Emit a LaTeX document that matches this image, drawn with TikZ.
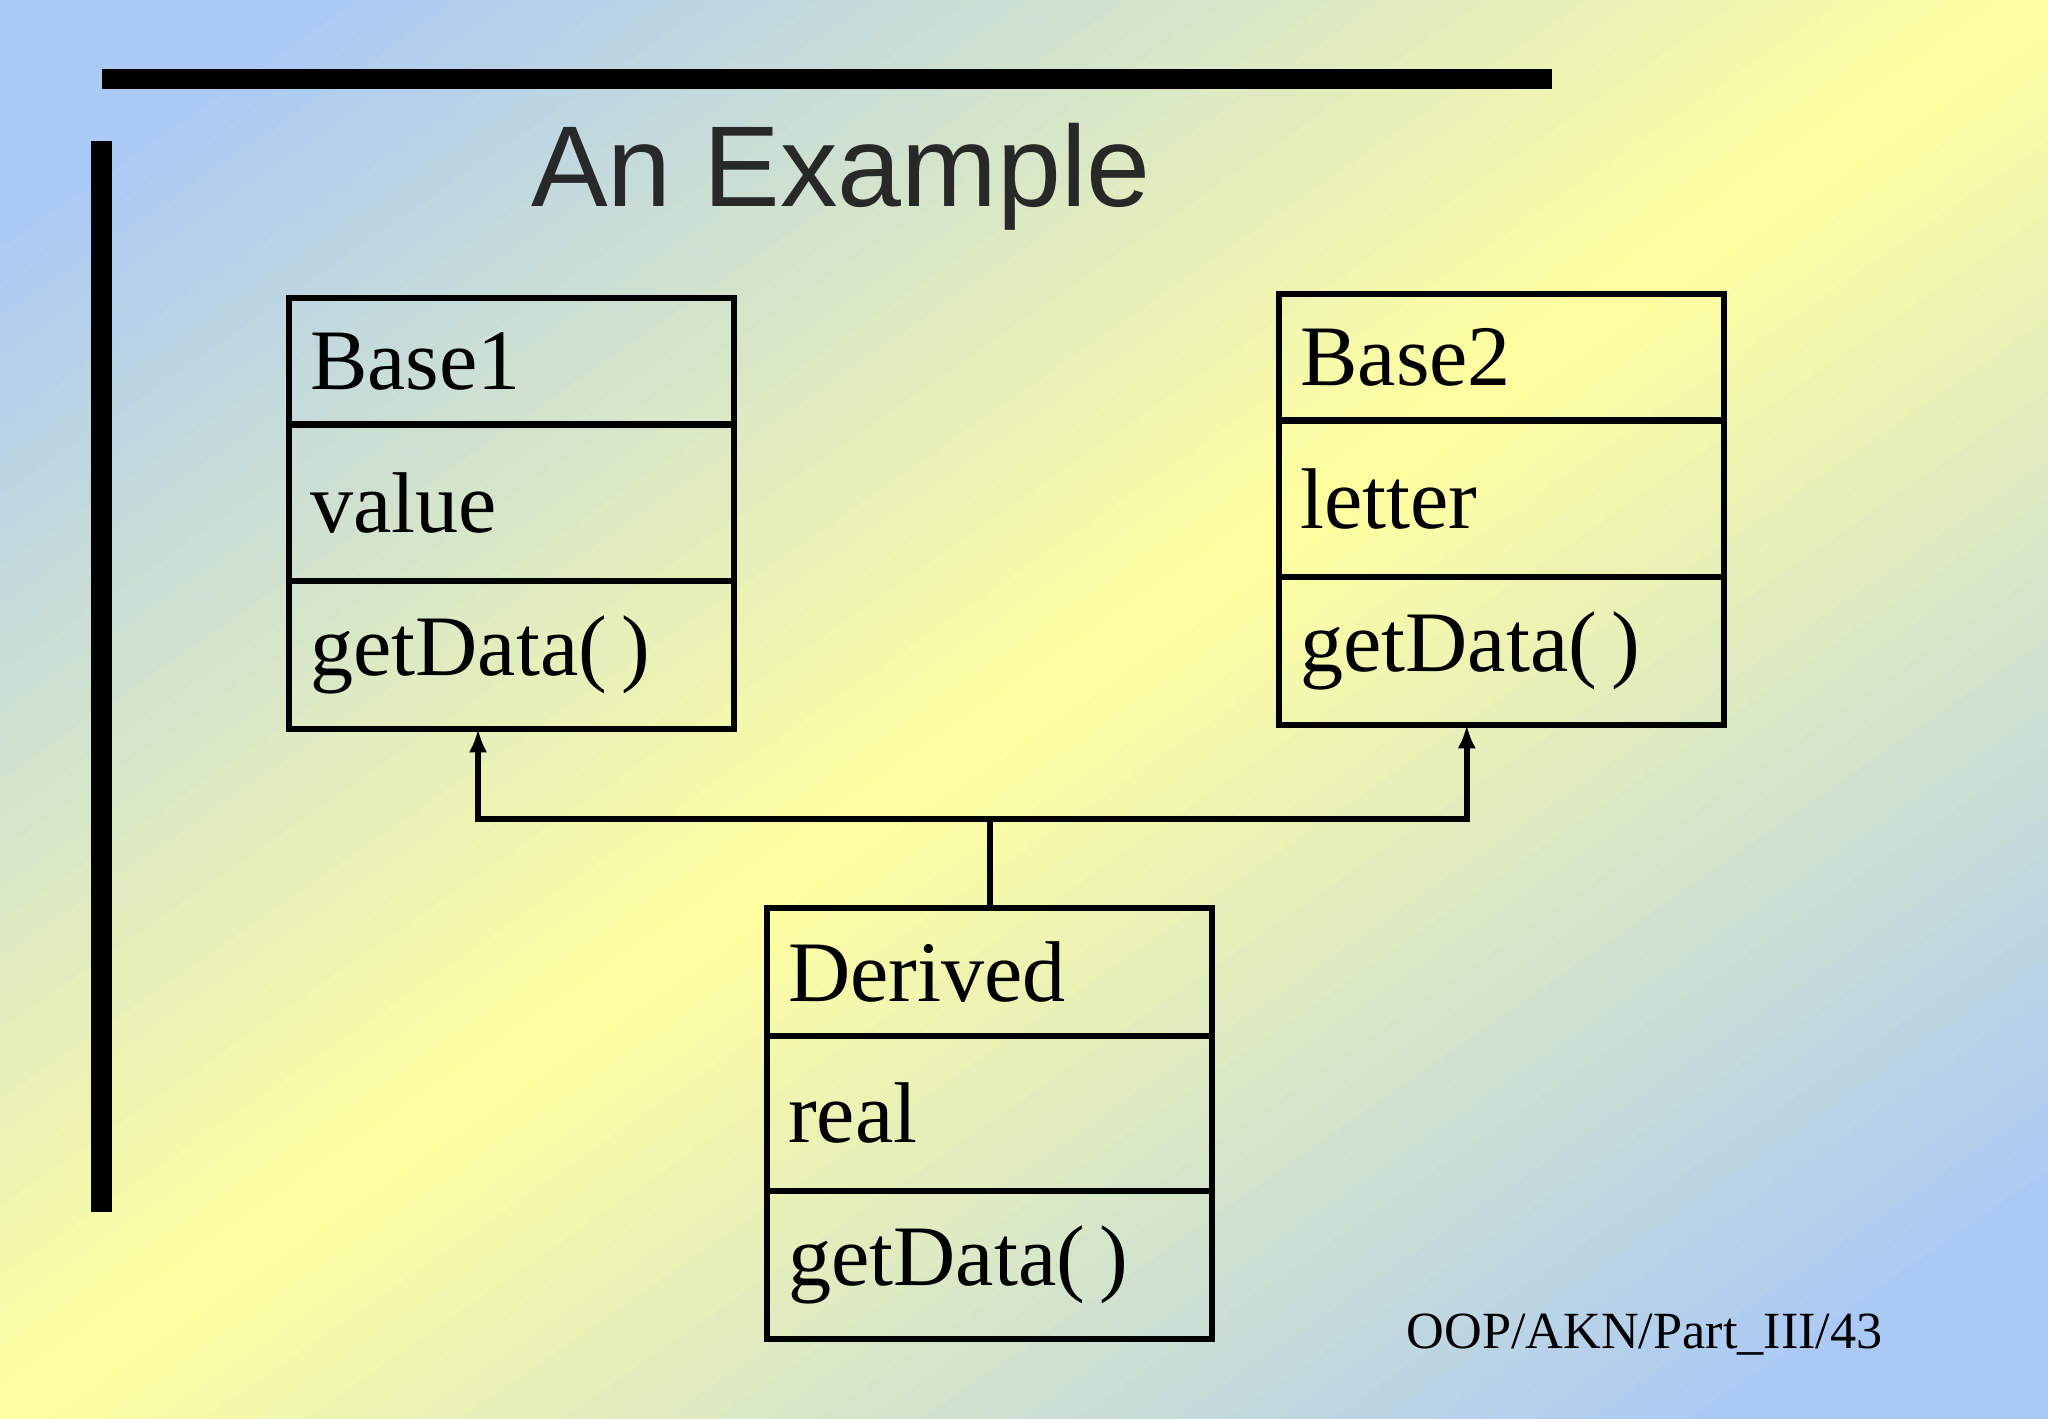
\documentclass[tikz,border=0pt]{standalone}
\usepackage{fontspec}
\setmainfont{Liberation Serif}
\newfontfamily\titlefont{Liberation Sans}
\usetikzlibrary{arrows.meta}
\definecolor{bgblue}{RGB}{170,202,245}
\definecolor{bgyellow}{RGB}{255,255,160}
\definecolor{titlegray}{RGB}{40,40,40}
\tikzset{
  comp/.style={draw=black, line width=2.4pt, minimum width=170.5pt, text width=154pt, align=left, inner sep=0pt, font=\fontsize{33}{33}\selectfont},
  conn/.style={line width=2.2pt},
  arr/.style={conn, -{Latex[length=9pt,width=7pt]}},
  bar/.style={fill=black, draw=none}
}
\begin{document}
\begin{tikzpicture}[x=0.5pt,y=-0.5pt]
\useasboundingbox (0,0) rectangle (1568,1086);
\begin{scope}
\clip (0,0) rectangle (1568,1086);
\foreach \i in {0,...,79}{
  \pgfmathsetmacro\ua{\i/40}
  \pgfmathsetmacro\ub{(\i+1.05)/40}
  \pgfmathtruncatemacro\p{min(100,abs((\i+0.5)/40-1)*120)}
  \fill[bgblue!\p!bgyellow] (\ua*1568,0) -- (0,\ua*1086) -- (0,\ub*1086) -- (\ub*1568,0) -- cycle;
}
\end{scope}
\fill[bar] (78,53) rectangle (1188,68);
\fill[bar] (70,108) rectangle (86,928);
\node[font=\titlefont\fontsize{44}{44}\selectfont, text=titlegray] (title) at (644,135) {An Example};
% Base1
\node[comp, minimum height=48.5pt] (b1a) at (391.5,276.5) {Base1};
\node[comp, minimum height=60pt] (b1b) at (391.5,385) {value};
\node[comp, minimum height=56.5pt] (b1c) at (391.5,501.5) {getData(\,)};
% Base2
\node[comp, minimum height=48.5pt] (b2a) at (1149.5,273.5) {Base2};
\node[comp, minimum height=60pt] (b2b) at (1149.5,382) {letter};
\node[comp, minimum height=56.5pt] (b2c) at (1149.5,498.5) {getData(\,)};
% Derived
\node[comp, minimum height=49pt] (da) at (757.5,744) {Derived};
\node[comp, minimum height=59.5pt] (db) at (757.5,852.5) {real};
\node[comp, minimum height=56.5pt] (dc) at (757.5,968.5) {getData(\,)};
\coordinate (j) at (758,627);
\coordinate (a1) at (366,558);
\coordinate (a2) at (1123,555);
\draw[conn] (da.north -| j) -- (j);
\draw[arr] (j) -| (a1);
\draw[arr] (j) -| (a2);
\node[font=\fontsize{20}{20}\selectfont, anchor=west] (foot) at (1070,1022) {OOP/AKN/Part\_III/43};
\end{tikzpicture}
\end{document}
